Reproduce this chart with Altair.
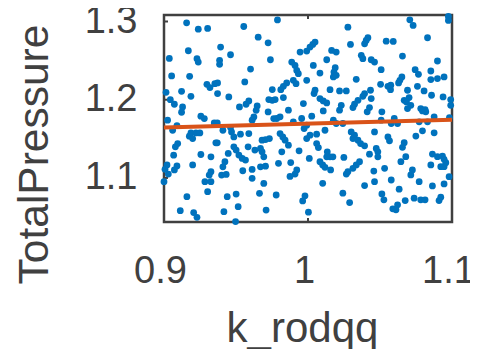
import altair as alt
import pandas as pd

# scatter samples (k_rodqq, TotalPressure)
k_rodqq = [
    0.9157, 0.9238, 0.9303, 0.9169, 0.9037, 0.9229, 0.9238, 0.9053, 0.9178, 0.9014,
    0.9122, 0.9187, 0.9298, 0.9319, 0.9353, 0.9044, 0.9072, 0.9129, 0.9122, 0.9256,
    0.9280, 0.9025, 0.9349, 0.9090, 0.9060, 0.9187, 0.9222, 0.9249, 0.9176, 0.9199,
    0.9360, 0.9095, 0.9079, 0.9067, 0.9256, 0.9326, 0.9021, 0.9007, 0.9090, 0.9072,
    0.9199, 0.9030, 0.9000, 0.9326, 0.9314, 0.9284, 0.9326, 0.9303, 0.9159, 0.9113,
    0.9206, 0.9229,
    0.9554, 0.9654, 0.9723, 0.9393, 0.9462, 0.9386, 0.9386, 0.9739, 0.9601, 0.9561,
    0.9372, 0.9752, 0.9372, 0.9450, 0.9728, 0.9752, 0.9589, 0.9570, 0.9524, 0.9647,
    0.9640, 0.9723, 0.9624, 0.9612, 0.9762, 0.9370, 0.9409, 0.9462, 0.9469, 0.9485,
    0.9531, 0.9589, 0.9681, 0.9705, 0.9732, 0.9370, 0.9485, 0.9501, 0.9520, 0.9543,
    0.9566, 0.9584, 0.9631, 0.9670, 0.9681, 0.9693, 0.9446, 0.9423, 0.9409, 0.9547,
    0.9612, 0.9612, 0.9670, 0.9705, 0.9400, 0.9432, 0.9693, 0.9439, 0.9501, 0.9663,
    0.9515, 0.9416, 0.9709, 0.9497,
    0.9788, 1.0049, 1.0033, 1.0014, 0.9991, 0.9945, 1.0164, 1.0130, 0.9887, 0.9910,
    0.9922, 0.9933, 1.0037, 1.0083, 0.9991, 0.9898, 0.9917, 1.0176, 0.9852, 0.9829,
    0.9811, 1.0049, 1.0042, 1.0153, 0.9829, 0.9772, 1.0083, 1.0106, 1.0130, 0.9968,
    1.0106, 0.9864, 0.9806, 0.9783, 0.9956, 1.0026, 0.9898, 0.9991, 0.9973, 1.0176,
    1.0118, 1.0014, 0.9991, 1.0060, 0.9806, 0.9825, 0.9841, 0.9864, 1.0060, 1.0072,
    0.9938, 0.9818, 1.0134, 1.0153, 1.0130, 1.0009, 1.0083, 1.0102, 1.0118, 1.0157,
    0.9795, 0.9880, 0.9922, 0.9910, 0.9875, 1.0102, 0.9779, 0.9979, 0.9963, 1.0003,
    1.0277, 1.0295, 1.0416, 1.0404, 1.0393, 1.0543, 1.0196, 1.0370, 1.0381, 1.0439,
    1.0462, 1.0508, 1.0189, 1.0180, 1.0196, 1.0335, 1.0504, 1.0555, 1.0573, 1.0219,
    1.0266, 1.0434, 1.0393, 1.0381, 1.0439, 1.0347, 1.0323, 1.0312, 1.0231, 1.0219,
    1.0427, 1.0411, 1.0513, 1.0196, 1.0242, 1.0508, 1.0578, 1.0462, 1.0300, 1.0323,
    1.0312, 1.0347, 1.0555, 1.0566, 1.0365, 1.0393, 1.0474, 1.0485, 1.0427, 1.0485,
    1.0173, 1.0249, 1.0358, 1.0335, 1.0312, 1.0277, 1.0266, 1.0457, 1.0532, 1.0578,
    1.0462, 1.0393, 1.0242, 1.0513, 1.0527, 1.0289, 1.0589,
    1.0707, 1.0730, 1.0975, 1.0975, 1.0830, 1.0592, 1.0656, 1.0899, 1.0744, 1.0767,
    1.0853, 1.0652, 1.0638, 1.0629, 1.0575, 1.0853, 1.0899, 1.0945, 1.0760, 1.0806,
    1.0691, 1.0858, 1.0938, 1.0702, 1.0668, 1.0684, 1.0991, 1.0991, 1.0714, 1.0691,
    1.0783, 1.0813, 1.0818, 1.0795, 1.0876, 1.0599, 1.0622, 1.0982, 1.0772, 1.0830,
    1.0795, 1.0749, 1.0876, 1.0668, 1.0656, 1.0864, 1.0899, 1.0934, 1.0945, 1.0957,
    1.0922, 1.0945, 1.0679, 1.0645, 1.0853, 1.0725, 1.0714, 1.0980, 1.0772, 1.0945,
    1.0864, 1.0633, 1.0737, 1.0783, 1.0813, 1.0922, 1.0910, 1.0675, 1.0622, 1.0611,
]
total_pressure = [
    1.2983, 1.2902, 1.2911, 1.2626, 1.2528, 1.2524, 1.2482, 1.2304, 1.2299, 1.2095,
    1.2108, 1.2044, 1.2197, 1.2155, 1.2205, 1.2001, 1.1942, 1.1908, 1.1840, 1.1789,
    1.1759, 1.1738, 1.1704, 1.1670, 1.1610, 1.1576, 1.1576, 1.1576, 1.1534, 1.1504,
    1.1449, 1.1440, 1.1398, 1.1291, 1.1300, 1.1270, 1.1166, 1.1110, 1.1153, 1.1102,
    1.1166, 1.1050, 1.0952, 1.1080, 1.1037, 1.0952, 1.0952, 1.0824, 1.0760, 1.0582,
    1.0557, 1.0497,
    1.2936, 1.2800, 1.2728, 1.2673, 1.2575, 1.2503, 1.2452, 1.2511, 1.2392, 1.2227,
    1.2214, 1.2130, 1.2079, 1.2036, 1.2002, 1.1993, 1.1985, 1.1942, 1.1908, 1.1921,
    1.1865, 1.1844, 1.1780, 1.1738, 1.1759, 1.1704, 1.1610, 1.1644, 1.1589, 1.1525,
    1.1559, 1.1568, 1.1483, 1.1491, 1.1504, 1.1449, 1.1398, 1.1356, 1.1292, 1.1249,
    1.1228, 1.1398, 1.1356, 1.1377, 1.1334, 1.1270, 1.1313, 1.1207, 1.1143, 1.1092,
    1.1109, 1.0995, 1.1143, 1.1151, 1.1037, 1.1045, 1.0930, 1.0760, 1.0794, 1.0803,
    1.0633, 1.0569, 1.0590, 1.0442,
    1.3020, 1.2737, 1.2707, 1.2673, 1.2622, 1.2609, 1.2630, 1.2511, 1.2482, 1.2439,
    1.2375, 1.2333, 1.2439, 1.2341, 1.2248, 1.2248, 1.2205, 1.2291, 1.2214, 1.2172,
    1.2129, 1.2121, 1.2078, 1.2129, 1.2027, 1.2002, 1.2015, 1.1985, 1.1959, 1.1951,
    1.1857, 1.1866, 1.1781, 1.1760, 1.1760, 1.1789, 1.1717, 1.1675, 1.1632, 1.1738,
    1.1610, 1.1547, 1.1504, 1.1559, 1.1568, 1.1525, 1.1483, 1.1419, 1.1440, 1.1389,
    1.1347, 1.1334, 1.1334, 1.1270, 1.1270, 1.1249, 1.1207, 1.1166, 1.1136, 1.1102,
    1.1187, 1.1196, 1.1102, 1.1050, 1.1020, 1.0932, 1.0782, 1.0771, 1.0707, 1.0563,
    1.2928, 1.2707, 1.2792, 1.2758, 1.2715, 1.2749, 1.2609, 1.2567, 1.2524, 1.2511,
    1.2482, 1.2384, 1.2409, 1.2354, 1.2312, 1.2261, 1.2197, 1.2172, 1.2129, 1.2112,
    1.2112, 1.2121, 1.2078, 1.2044, 1.2015, 1.1993, 1.1942, 1.1900, 1.1929, 1.1866,
    1.1900, 1.1845, 1.1845, 1.1696, 1.1696, 1.1738, 1.1696, 1.1589, 1.1589, 1.1547,
    1.1504, 1.1483, 1.1525, 1.1474, 1.1440, 1.1411, 1.1377, 1.1334, 1.1304, 1.1270,
    1.1270, 1.1262, 1.1207, 1.1166, 1.1123, 1.1080, 1.1050, 1.1088, 1.1123, 1.0974,
    1.0953, 1.0902, 1.0805, 1.0796, 1.0720, 1.0686, 1.0605,
    1.3021, 1.2949, 1.3064, 1.3013, 1.2792, 1.2745, 1.2558, 1.2495, 1.2384, 1.2325,
    1.2367, 1.2291, 1.2248, 1.2214, 1.2185, 1.2257, 1.2270, 1.2291, 1.2172, 1.2112,
    1.2121, 1.2057, 1.2036, 1.2027, 1.1993, 1.1972, 1.2002, 1.1929, 1.1929, 1.1887,
    1.1887, 1.1874, 1.1845, 1.1857, 1.1781, 1.1760, 1.1696, 1.1772, 1.1717, 1.1717,
    1.1603, 1.1535, 1.1577, 1.1450, 1.1391, 1.1306, 1.1272, 1.1280, 1.1238, 1.1195,
    1.1144, 1.1144, 1.1272, 1.1208, 1.1166, 1.1102, 1.1038, 1.1017, 1.0953, 1.0924,
    1.0898, 1.0856, 1.0741, 1.0720, 1.0720, 1.0754, 1.0711, 1.0711, 1.0656, 1.0592,
]

# linear fit line end points
fit_x = [0.9, 1.1]
fit_y = [1.1645, 1.1745]

# tick values
x_ticks = [0.9, 1.0, 1.1]
y_ticks = [1.1, 1.2, 1.3]

W, H = 288, 207
X_DOMAIN = [0.9, 1.1]
Y_DOMAIN = [1.0437, 1.3083]
TXT = "#404040"
FONT = "Liberation Sans"

pts = pd.DataFrame({"k_rodqq": k_rodqq, "TotalPressure": total_pressure})
fit = pd.DataFrame({"k_rodqq": fit_x, "TotalPressure": fit_y})
xt = pd.DataFrame({"v": x_ticks})
yt = pd.DataFrame({"v": y_ticks})

xscale = alt.Scale(domain=X_DOMAIN, nice=False, zero=False)
yscale = alt.Scale(domain=Y_DOMAIN, nice=False, zero=False)

xaxis = alt.Axis(
    values=x_ticks, format="~g", ticks=False, domain=False, grid=False,
    labelFontSize=38, labelColor=TXT, labelFont=FONT, labelPadding=30,
    labelFlush=False, labelOffset=-4,
    title="k_rodqq", titleFontSize=42, titleFont=FONT, titleColor=TXT,
    titleFontWeight="normal", titleX=138, titleY=119,
    titleAlign="center", titleBaseline="alphabetic",
)
yaxis = alt.Axis(
    values=y_ticks, format="~g", ticks=False, domain=False, grid=False,
    labelFontSize=38, labelColor=TXT, labelFont=FONT, labelPadding=27,
    title="TotalPressure", titleFontSize=42.5, titleFont=FONT, titleColor=TXT,
    titleFontWeight="normal", titleAngle=270, titleX=-117, titleY=139,
    titleAlign="center", titleBaseline="alphabetic",
)

points = alt.Chart(pts).mark_circle(size=46, color="#0072BD", opacity=1).encode(
    x=alt.X("k_rodqq:Q", scale=xscale, axis=xaxis),
    y=alt.Y("TotalPressure:Q", scale=yscale, axis=yaxis),
)

line = alt.Chart(fit).mark_line(color="#D95319", strokeWidth=4).encode(
    x=alt.X("k_rodqq:Q", scale=xscale),
    y=alt.Y("TotalPressure:Q", scale=yscale),
)

tick_len = 4
xt_bottom = alt.Chart(xt).mark_rule(color=TXT, strokeWidth=2).encode(
    x=alt.X("v:Q", scale=xscale), y=alt.value(H), y2=alt.value(H - tick_len))
xt_top = alt.Chart(xt).mark_rule(color=TXT, strokeWidth=2).encode(
    x=alt.X("v:Q", scale=xscale), y=alt.value(0), y2=alt.value(tick_len))
yt_left = alt.Chart(yt).mark_rule(color=TXT, strokeWidth=2).encode(
    y=alt.Y("v:Q", scale=yscale), x=alt.value(0), x2=alt.value(tick_len))
yt_right = alt.Chart(yt).mark_rule(color=TXT, strokeWidth=2).encode(
    y=alt.Y("v:Q", scale=yscale), x=alt.value(W), x2=alt.value(W - tick_len))

chart = alt.layer(xt_bottom, xt_top, yt_left, yt_right, points, line).properties(
    width=W, height=H,
    autosize=alt.AutoSizeParams(type="none"),
    padding={"left": 156, "top": 7, "right": 18, "bottom": 127},
    background="white",
).configure_view(
    stroke=TXT, strokeWidth=2.5, fill="white"
)

chart.save("out.html", embed_options={"renderer": "svg", "actions": False})
